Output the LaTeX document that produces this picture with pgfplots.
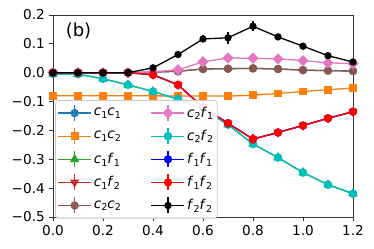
\documentclass[border=0pt]{standalone}
\usepackage{pgfplots}
\usepackage{pgfplotstable}
\pgfplotsset{compat=1.18}
\usepackage{fontspec}
\setmainfont{DejaVu Sans}
\definecolor{tabblue}{HTML}{1F77B4}
\definecolor{taborange}{HTML}{FF7F0E}
\definecolor{tabgreen}{HTML}{2CA02C}
\definecolor{tabred}{HTML}{D62728}
\definecolor{tabbrown}{HTML}{8C564B}
\definecolor{tabpink}{HTML}{E377C2}
\definecolor{mcyan}{HTML}{00BFBF}
\newcommand{\vv}[4]{\textit{#1}\raisebox{-0.35ex}{\fontsize{9.5bp}{10bp}\selectfont #2}\textit{#3}\raisebox{-0.35ex}{\fontsize{9.5bp}{10bp}\selectfont #4}}
\pgfplotstableread{
x    c1c1   c1c2   c1f1   c1f2   c2c2   c2f1   c2f2   f1f1   f1f2   f2f2  ec2f1  ef1f2  ef2f2
0.0  0.000 -0.080 -0.004  0.000  0.000  0.000 -0.004  0.000  0.000  0.000  0.002  0.002  0.002
0.1  0.000 -0.080 -0.005  0.000  0.000  0.000 -0.005  0.000  0.000  0.000  0.002  0.002  0.002
0.2  0.000 -0.080 -0.021  0.000  0.000  0.000 -0.021  0.000  0.000  0.000  0.002  0.002  0.002
0.3  0.000 -0.080 -0.042  0.000  0.000  0.000 -0.042  0.000  0.000  0.000  0.002  0.002  0.002
0.4  0.002 -0.080 -0.065 -0.007  0.002  0.003 -0.065 -0.007 -0.007  0.017  0.003  0.003  0.004
0.5  0.005 -0.081 -0.092 -0.042  0.005  0.010 -0.092 -0.042 -0.042  0.063  0.004  0.004  0.006
0.6  0.013 -0.081 -0.125 -0.120  0.013  0.038 -0.125 -0.120 -0.120  0.117  0.006  0.006  0.012
0.7  0.014 -0.081 -0.180 -0.175  0.014  0.051 -0.180 -0.175 -0.175  0.121  0.006  0.010  0.020
0.8  0.015 -0.078 -0.247 -0.230  0.015  0.050 -0.247 -0.230 -0.230  0.161  0.006  0.018  0.018
0.9  0.013 -0.072 -0.294 -0.207  0.013  0.048 -0.294 -0.207 -0.207  0.124  0.005  0.006  0.006
1.0  0.009 -0.065 -0.346 -0.183  0.009  0.042 -0.346 -0.183 -0.183  0.092  0.004  0.005  0.005
1.1  0.007 -0.059 -0.388 -0.158  0.007  0.034 -0.388 -0.158 -0.158  0.059  0.004  0.005  0.005
1.2  0.006 -0.053 -0.419 -0.135  0.006  0.032 -0.419 -0.135 -0.135  0.037  0.004  0.005  0.005
}\data
\pgfplotsset{
  sblue/.style={color=tabblue, mark=*, mark size=3.5bp},
  sorange/.style={color=taborange, mark=square*, mark size=3.3bp},
  sgreen/.style={color=tabgreen, mark=triangle*, mark size=4.2bp},
  sred/.style={color=tabred, mark=triangle*, mark options={rotate=180}, mark size=4bp},
  sbrown/.style={color=tabbrown, mark=*, mark size=3.5bp},
  spink/.style={color=tabpink, mark=square*, mark options={rotate=45}, mark size=3.3bp},
  scyan/.style={color=mcyan, mark=*, mark size=3.6bp},
  sbb/.style={color=blue, mark=*, mark size=3.5bp},
  srr/.style={color=red, mark=*, mark size=3.5bp},
  skk/.style={color=black, mark=*, mark size=3bp},
  common/.style={
    at={(0,0)}, anchor=south west,
    scale only axis, width=300bp, height=202bp,
    xmin=0, xmax=1.2, ymin=-0.5, ymax=0.2,
    every axis plot/.append style={line width=1.3bp},
  },
}
\begin{document}
\fontsize{13.6bp}{16bp}\selectfont
\begin{tikzpicture}
\begin{axis}[
  common,
  clip mode=individual,
  axis line style={black!80, line width=0.8bp},
  tick align=outside, major tick length=3.5bp,
  tick style={black!80, line width=0.8bp},
  xtick pos=bottom, ytick pos=left,
  xtick={0,0.2,0.4,0.6,0.8,1.0,1.2},
  xticklabels={0.0,0.2,0.4,0.6,0.8,1.0,1.2},
  ytick={-0.5,-0.4,-0.3,-0.2,-0.1,0,0.1,0.2},
  yticklabels={−0.5,−0.4,−0.3,−0.2,−0.1,0.0,0.1,0.2},
  ticklabel style={font=\fontsize{13.6bp}{16bp}\selectfont},
  error bars/error bar style={line width=1.3bp},
  error bars/error mark=none,
]
\addplot[sblue] table[x=x,y=c1c1]{\data};
\addplot[sorange] table[x=x,y=c1c2]{\data};
\addplot[sgreen] table[x=x,y=c1f1]{\data};
\addplot[sred] table[x=x,y=c1f2]{\data};
\addplot[sbrown] table[x=x,y=c2c2]{\data};
\addplot[spink, error bars/.cd, y dir=both, y explicit] table[x=x,y=c2f1,y error=ec2f1]{\data};
\addplot[scyan] table[x=x,y=c2f2]{\data};
\addplot[sbb] table[x=x,y=f1f1]{\data};
\addplot[srr, error bars/.cd, y dir=both, y explicit] table[x=x,y=f1f2,y error=ef1f2]{\data};
\addplot[skk, error bars/.cd, y dir=both, y explicit] table[x=x,y=f2f2,y error=ef2f2]{\data};
\node[font=\fontsize{18bp}{20bp}\selectfont] at (rel axis cs:0.085,0.92) {(b)};
\end{axis}
\begin{axis}[
  common,
  hide axis,
  legend columns=5,
  transpose legend,
  legend cell align=left,
  legend style={at={(rel axis cs:0.007,0.579)}, anchor=north west,
    draw=black!20, line width=0.8bp, rounded corners=3bp,
    fill=white, fill opacity=0.9, text opacity=1,
    font=\fontsize{13.6bp}{16bp}\selectfont,
    inner xsep=2bp, inner ysep=4bp,
    /tikz/every even column/.append style={column sep=28bp},
    row sep=5.8bp},
  legend image code/.code={
    \draw[#1,mark=none] (16.5bp,-8bp) -- (16.5bp,8bp);
    \draw[mark repeat=2,mark phase=2,#1] plot coordinates {(0bp,0bp) (16.5bp,0bp) (33bp,0bp)};
  },
]
\addlegendimage{sblue}\addlegendentry{\vv{c}{1}{c}{1}}
\addlegendimage{sorange}\addlegendentry{\vv{c}{1}{c}{2}}
\addlegendimage{sgreen}\addlegendentry{\vv{c}{1}{f}{1}}
\addlegendimage{sred}\addlegendentry{\vv{c}{1}{f}{2}}
\addlegendimage{sbrown}\addlegendentry{\vv{c}{2}{c}{2}}
\addlegendimage{spink}\addlegendentry{\vv{c}{2}{f}{1}}
\addlegendimage{scyan}\addlegendentry{\vv{c}{2}{f}{2}}
\addlegendimage{sbb}\addlegendentry{\vv{f}{1}{f}{1}}
\addlegendimage{srr}\addlegendentry{\vv{f}{1}{f}{2}}
\addlegendimage{skk}\addlegendentry{\vv{f}{2}{f}{2}}
\end{axis}
\path (-53bp,-32bp) rectangle (321bp,217bp);
\end{tikzpicture}
\end{document}
